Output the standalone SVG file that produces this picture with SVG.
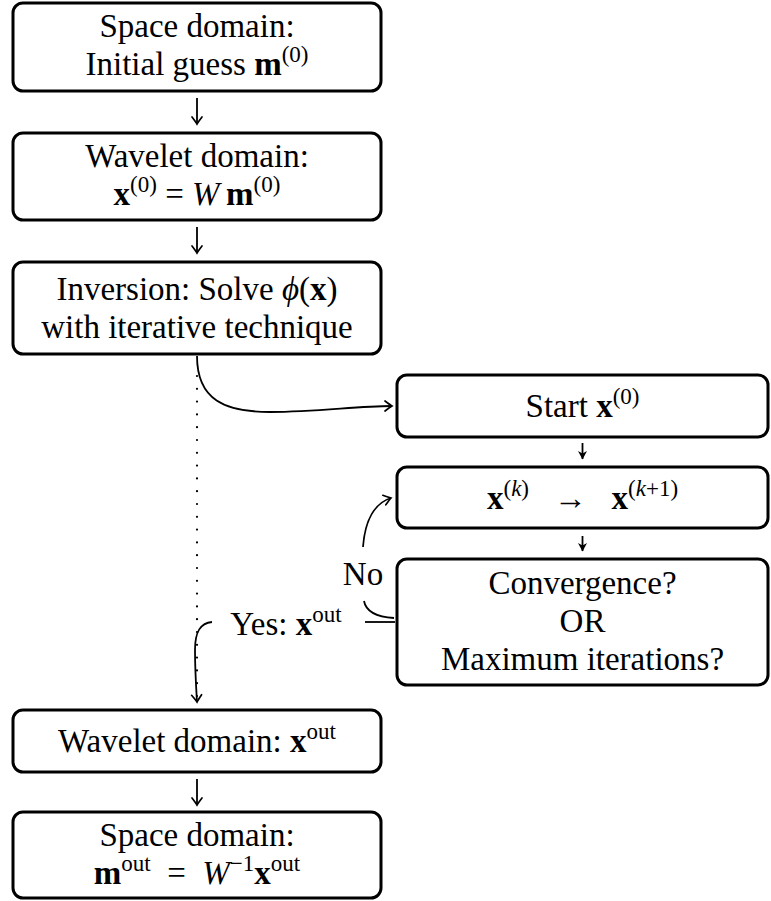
<svg xmlns="http://www.w3.org/2000/svg" width="771" height="901" viewBox="0 0 771 901">
<defs>
<marker id="to" markerUnits="userSpaceOnUse" viewBox="-10 -7 12 14" refX="0" refY="0" markerWidth="12" markerHeight="14" orient="auto" overflow="visible">
<path d="M-7,-5 Q-2,-1.2 0,0 Q-2,1.2 -7,5" fill="none" stroke="#000" stroke-width="1.7" stroke-linecap="round"/>
</marker>
<marker id="st" markerUnits="userSpaceOnUse" viewBox="-10 -7 12 14" refX="0" refY="0" markerWidth="12" markerHeight="14" orient="auto" overflow="visible">
<path d="M0.5,0 L-8,-4.5 L-5.5,0 L-8,4.5 Z" fill="#000"/>
</marker>
</defs>
<style>
.box{fill:#fff;stroke:#000;stroke-width:3}
.t{font-family:'Liberation Serif','DejaVu Serif',serif;font-size:33px;fill:#000;text-anchor:middle}
.b{font-weight:bold}
.i{font-style:italic}
.s{font-size:23px}
.e{fill:none;stroke:#000;stroke-width:1.8}
.dot{fill:none;stroke:#000;stroke-width:2.2;stroke-linecap:round;stroke-dasharray:0 12.8}
</style>
<rect width="771" height="901" fill="#fff"/>

<g id="connectors">
<path class="e" d="M197,98 L197,124" marker-end="url(#to)"/>
<path class="e" d="M197,227 L197,253" marker-end="url(#to)"/>
<path class="e" d="M197,779 L197,805" marker-end="url(#to)"/>
<path class="e" d="M582.5,443 L582.5,459" marker-end="url(#st)"/>
<path class="e" d="M582.5,536 L582.5,551" marker-end="url(#st)"/>
<path class="e" d="M197,356 C197,400 225,412 270,412 C320,412 355,406 392,406" marker-end="url(#to)"/>
<path class="dot" d="M197,376 L197,700"/>
<path class="e" d="M394,618 C378,617 366,612 364,601"/>
<path class="e" d="M363,547 C365,520 375,503 391,498" marker-end="url(#to)"/>
<path class="e" d="M395,622 L365,622"/>
<path class="e" d="M212,622 C200,623 195,632 195,650 C195,670 196,685 197,702" marker-end="url(#to)"/>
<text class="t" x="363" y="585">No</text>
<text class="t" x="286" y="635">Yes: <tspan class="b">x</tspan><tspan class="s" dy="-13">out</tspan></text>
</g>

<g id="n1">
<rect class="box" x="13" y="3" width="368" height="88" rx="10"/>
<text class="t" x="197" y="37">Space domain:</text>
<text class="t" x="197" y="75">Initial guess <tspan class="b">m</tspan><tspan class="s" dy="-13">(0)</tspan></text>
</g>

<g id="n2">
<rect class="box" x="13" y="133" width="368" height="87" rx="10"/>
<text class="t" x="197" y="167">Wavelet domain:</text>
<text class="t" x="197" y="205"><tspan class="b">x</tspan><tspan class="s" dy="-13">(0)</tspan><tspan dy="13">&#160;=&#160;</tspan><tspan class="i">W</tspan><tspan>&#8201;</tspan><tspan class="b">m</tspan><tspan class="s" dy="-13">(0)</tspan></text>
</g>

<g id="n3">
<rect class="box" x="13" y="262" width="368" height="92" rx="10"/>
<text class="t" x="197" y="300">Inversion:  Solve <tspan class="i">ϕ</tspan>(<tspan class="b">x</tspan>)</text>
<text class="t" x="197" y="338">with iterative technique</text>
</g>

<g id="n4">
<rect class="box" x="397" y="375" width="371" height="62" rx="10"/>
<text class="t" x="582.5" y="417">Start <tspan class="b">x</tspan><tspan class="s" dy="-13">(0)</tspan></text>
</g>

<g id="n5">
<rect class="box" x="397" y="467" width="371" height="61" rx="10"/>
<text class="t" x="582.5" y="509"><tspan class="b">x</tspan><tspan class="s" dy="-13">(<tspan class="i">k</tspan>)</tspan><tspan dy="13">&#160;&#160;&#160;→&#160;&#160;&#160;</tspan><tspan class="b">x</tspan><tspan class="s" dy="-13">(<tspan class="i">k</tspan>+1)</tspan></text>
</g>

<g id="n6">
<rect class="box" x="397" y="559" width="371" height="126" rx="10"/>
<text class="t" x="582.5" y="594">Convergence?</text>
<text class="t" x="582.5" y="632">OR</text>
<text class="t" x="582.5" y="670">Maximum iterations?</text>
</g>

<g id="n7">
<rect class="box" x="13" y="710" width="368" height="62" rx="10"/>
<text class="t" x="197" y="752">Wavelet domain:  <tspan class="b">x</tspan><tspan class="s" dy="-13">out</tspan></text>
</g>

<g id="n8">
<rect class="box" x="13" y="812" width="368" height="86" rx="10"/>
<text class="t" x="197" y="846">Space domain:</text>
<text class="t" x="197" y="884"><tspan class="b">m</tspan><tspan class="s" dy="-13">out</tspan><tspan dy="13">&#160;&#160;=&#160;&#160;</tspan><tspan class="i">W</tspan><tspan class="s" dy="-13">−1</tspan><tspan class="b" dy="13">x</tspan><tspan class="s" dy="-13">out</tspan></text>
</g>
</svg>
